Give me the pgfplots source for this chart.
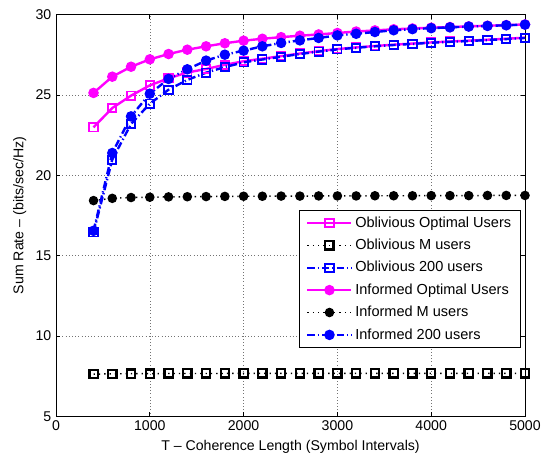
\documentclass[border=0pt]{standalone}
\usepackage{fontspec}
\setmainfont{Liberation Sans}
\usepackage{pgfplots}
\pgfplotsset{compat=1.18}
\definecolor{mag}{rgb}{1,0,1}
\definecolor{mblue}{rgb}{0,0,1}
\begin{document}
\begin{tikzpicture}
\begin{axis}[
 scale only axis, width=351.75pt, height=301.3pt,
 xmin=0,xmax=5000,ymin=5,ymax=30,
 xtick={0,1000,...,5000}, ytick={5,10,...,30},
 /pgf/number format/assume math mode=true,
 scaled x ticks=false, xticklabel style={/pgf/number format/1000 sep={}},
 tick align=inside, major tick length=3pt,
 grid=major, major grid style={dotted, black!55, line width=0.4pt},
 axis line style={line width=0.6pt},
 tick style={black, line width=0.5pt},
 tick label style={font=\fontsize{10.6}{12.5}\selectfont},
 label style={font=\fontsize{10.6}{12.5}\selectfont},
 xlabel={T -- Coherence Length (Symbol Intervals)},
 ylabel={Sum Rate -- (bits/sec/Hz)},
 legend style={at={(rel axis cs:0.9915,0.1695)}, anchor=south east, draw=black, line width=0.7pt, fill=white, font=\fontsize{10.9}{13}\selectfont, row sep=3.4pt, inner xsep=5pt, inner ysep=3pt},
 legend cell align=left,
 legend image code/.code={\draw[mark repeat=2,mark phase=2] plot coordinates {(0pt,0pt) (16.5pt,0pt) (33pt,0pt)};},
]
% Oblivious Optimal Users
\addplot[color=mag, line width=1.8pt, mark=square, mark size=3.1pt, mark options={solid, line width=1.4pt}] coordinates {
(400,22.99) (600,24.19) (800,24.96) (1000,25.60) (1200,26.04) (1400,26.40) (1600,26.62) (1800,26.88)
(2000,27.10) (2200,27.26) (2400,27.42) (2600,27.58) (2800,27.73) (3000,27.86) (3200,27.96) (3400,28.05)
(3600,28.13) (3800,28.20) (4000,28.27) (4200,28.33) (4400,28.38) (4600,28.44) (4800,28.50) (5000,28.57)};
\addlegendentry{Oblivious Optimal Users}
% Oblivious M users
\addplot[color=black, line width=1.1pt, dash pattern=on 1pt off 3pt, mark=square, mark size=3.1pt, mark options={solid, line width=1.7pt}] coordinates {
(400,7.63) (600,7.65) (800,7.66) (1000,7.66) (1200,7.67) (1400,7.67) (1600,7.67) (1800,7.67)
(2000,7.68) (2200,7.68) (2400,7.68) (2600,7.68) (2800,7.68) (3000,7.68) (3200,7.68) (3400,7.68)
(3600,7.68) (3800,7.68) (4000,7.68) (4200,7.68) (4400,7.68) (4600,7.68) (4800,7.68) (5000,7.68)};
\addlegendentry{Oblivious M users}
% Oblivious 200 users
\addplot[color=mblue, line width=1.8pt, dash pattern=on 5.5pt off 2.2pt on 1pt off 2.2pt, mark=square, mark size=3.1pt, mark options={solid, line width=1.4pt}] coordinates {
(400,16.45) (600,20.98) (800,23.20) (1000,24.46) (1200,25.33) (1400,25.94) (1600,26.39) (1800,26.74)
(2000,27.03) (2200,27.21) (2400,27.38) (2600,27.55) (2800,27.70) (3000,27.84) (3200,27.94) (3400,28.03)
(3600,28.11) (3800,28.18) (4000,28.25) (4200,28.31) (4400,28.36) (4600,28.42) (4800,28.48) (5000,28.55)};
\addlegendentry{Oblivious 200 users}
% Informed Optimal Users
\addplot[color=mag, line width=1.8pt, mark=*, mark size=3pt, mark options={solid}] coordinates {
(400,25.13) (600,26.14) (800,26.76) (1000,27.22) (1200,27.55) (1400,27.82) (1600,28.03) (1800,28.22)
(2000,28.38) (2200,28.50) (2400,28.60) (2600,28.69) (2800,28.77) (3000,28.86) (3200,28.95) (3400,29.02)
(3600,29.09) (3800,29.14) (4000,29.19) (4200,29.23) (4400,29.27) (4600,29.31) (4800,29.35) (5000,29.39)};
\addlegendentry{Informed Optimal Users}
% Informed M users
\addplot[color=black, line width=1.1pt, dash pattern=on 1pt off 3pt, mark=*, mark size=3pt, mark options={solid}] coordinates {
(400,18.43) (600,18.57) (800,18.62) (1000,18.64) (1200,18.66) (1400,18.67) (1600,18.68) (1800,18.69)
(2000,18.70) (2200,18.70) (2400,18.71) (2600,18.71) (2800,18.72) (3000,18.72) (3200,18.72) (3400,18.73)
(3600,18.73) (3800,18.73) (4000,18.74) (4200,18.74) (4400,18.74) (4600,18.75) (4800,18.75) (5000,18.75)};
\addlegendentry{Informed M users}
% Informed 200 users
\addplot[color=mblue, line width=1.8pt, dash pattern=on 5.5pt off 2.2pt on 1pt off 2.2pt, mark=*, mark size=3pt, mark options={solid}] coordinates {
(400,16.55) (600,21.39) (800,23.67) (1000,25.08) (1200,26.00) (1400,26.60) (1600,27.14) (1800,27.51)
(2000,27.76) (2200,28.03) (2400,28.24) (2600,28.40) (2800,28.55) (3000,28.71) (3200,28.81) (3400,28.92)
(3600,29.03) (3800,29.10) (4000,29.16) (4200,29.21) (4400,29.26) (4600,29.30) (4800,29.34) (5000,29.38)};
\addlegendentry{Informed 200 users}
\end{axis}
\pgfresetboundingbox
\path (-42pt,-29.75pt) rectangle (372pt,312.3pt);
\end{tikzpicture}
\end{document}
